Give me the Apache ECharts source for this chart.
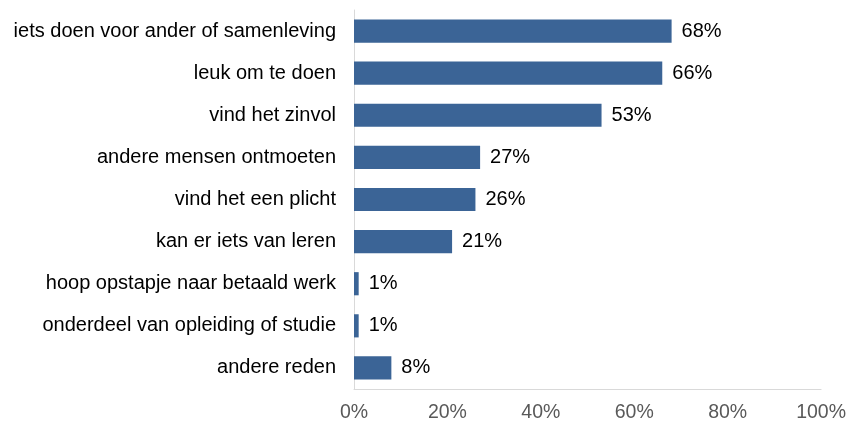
<!DOCTYPE html>
<html>
<head>
<meta charset="utf-8">
<script src="https://cdn.jsdelivr.net/npm/echarts@6/dist/echarts.min.js"></script>
<style>
  html, body { margin: 0; padding: 0; background: #fff; }
  #chart { width: 849px; height: 423px; }
</style>
</head>
<body>
<div id="chart"></div>
<script>
  // redenen, van boven naar beneden
  const categories = [
    'iets doen voor ander of samenleving',
    'leuk om te doen',
    'vind het zinvol',
    'andere mensen ontmoeten',
    'vind het een plicht',
    'kan er iets van leren',
    'hoop opstapje naar betaald werk',
    'onderdeel van opleiding of studie',
    'andere reden',
  ];
  const values = [68, 66, 53, 27, 26, 21, 1, 1, 8];
  const xTicks = [0, 20, 40, 60, 80, 100];

  const chart = echarts.init(document.getElementById('chart'));

  const option = {
    animation: false,
    textStyle: { fontFamily: 'Liberation Sans, Arial, sans-serif' },
    grid: {
      left: 354,
      right: 27,
      top: 10,
      bottom: 33,
      containLabel: false,
    },
    xAxis: {
      type: 'value',
      min: xTicks[0],
      max: xTicks[xTicks.length - 1],
      interval: 20,
      axisLine: { show: true, lineStyle: { color: '#d9d9d9', width: 1 } },
      axisTick: { show: false },
      splitLine: { show: false },
      axisLabel: {
        formatter: '{value}%',
        color: '#595959',
        fontSize: 19.5,
        margin: 14,
      },
    },
    yAxis: {
      type: 'category',
      data: categories,
      inverse: true,
      axisLine: { show: true, lineStyle: { color: '#d9d9d9', width: 1 } },
      axisTick: { show: false },
      axisLabel: {
        color: '#000',
        fontSize: 20,
        margin: 18,
      },
    },
    series: [
      {
        type: 'bar',
        data: values,
        barCategoryGap: '45%',
        itemStyle: { color: '#3b6496' },
        label: {
          show: true,
          position: 'right',
          distance: 10,
          formatter: '{c}%',
          color: '#000',
          fontSize: 20,
        },
      },
    ],
  };

  chart.setOption(option);
</script>
</body>
</html>
